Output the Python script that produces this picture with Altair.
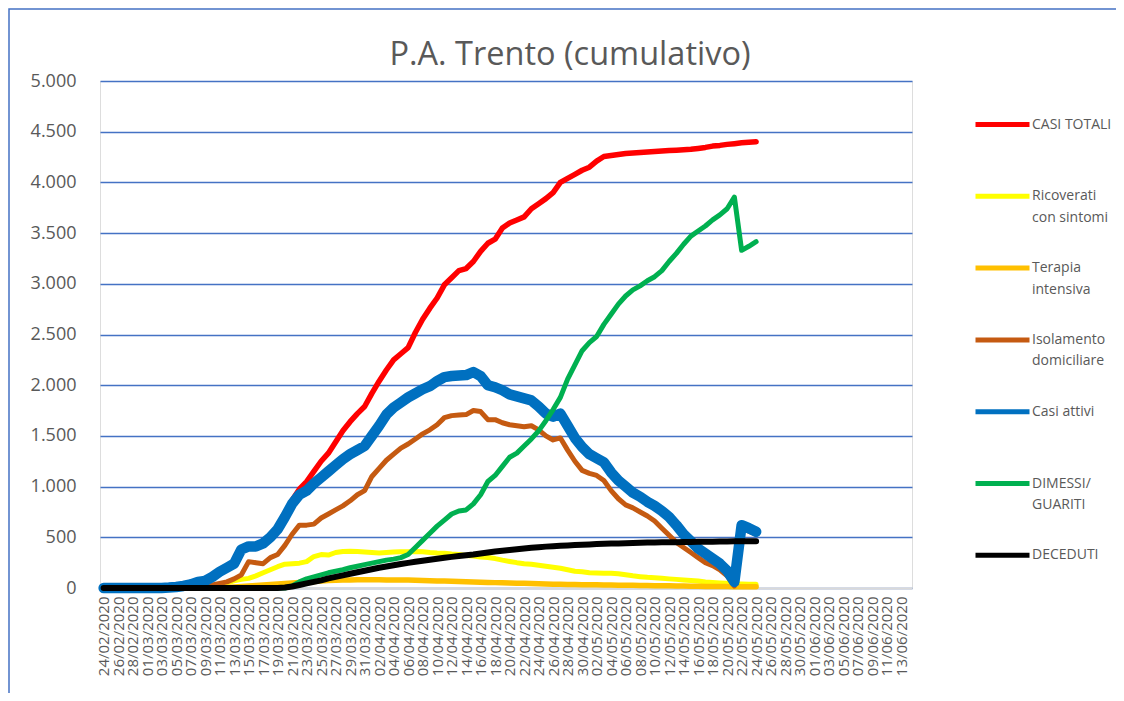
import altair as alt
import pandas as pd

# ---- categories (x axis): 24/02/2020 .. 14/06/2020 ----
date_categorie = pd.date_range("2020-02-24", "2020-06-14").strftime("%d/%m/%Y").tolist()
tick_x = date_categorie[::2]
tick_y = [0, 500, 1000, 1500, 2000, 2500, 3000, 3500, 4000, 4500, 5000]

# ---- series values (24/02/2020 .. 24/05/2020) ----
casi_totali = [0] * 9 + [
    4, 10, 20, 35, 60, 80, 115, 165, 205, 245,
    385, 420, 420, 455, 520, 605, 725, 865, 975, 1050,
    1150, 1250, 1330, 1440, 1550, 1640, 1720, 1790, 1920, 2040,
    2150, 2250, 2310, 2370, 2520, 2650, 2760, 2860, 2990, 3060,
    3130, 3150, 3220, 3320, 3400, 3440, 3550, 3600, 3630, 3660,
    3740, 3790, 3840, 3900, 4000, 4040, 4080, 4120, 4150, 4210,
    4255, 4265, 4275, 4285, 4290, 4295, 4300, 4305, 4310, 4315,
    4318, 4322, 4326, 4335, 4345, 4358, 4365, 4375, 4382, 4390,
    4395, 4401]

ricoverati = [0] * 14 + [
    10, 20, 30, 50, 70, 85, 95, 120, 150, 180,
    210, 235, 240, 245, 260, 310, 330, 325, 350, 360,
    362, 360, 355, 350, 345, 350, 355, 358, 358, 360,
    358, 350, 345, 342, 335, 330, 320, 315, 305, 300,
    290, 275, 262, 250, 240, 235, 225, 215, 205, 195,
    180, 165, 160, 150, 148, 146, 145, 140, 130, 120,
    112, 105, 100, 95, 90, 85, 80, 75, 70, 60,
    55, 50, 46, 42, 40, 38, 36]

terapia_intensiva = [0] * 16 + [
    3, 6, 10, 15, 20, 25, 30, 35, 40, 45,
    50, 55, 60, 65, 70, 73, 76, 78, 80, 81,
    82, 82, 81, 80, 80, 79, 78, 76, 74, 72,
    70, 68, 66, 64, 62, 60, 57, 55, 53, 51,
    49, 47, 46, 44, 42, 40, 38, 37, 35, 34,
    33, 32, 31, 30, 29, 28, 27, 26, 25, 24,
    23, 22, 21, 20, 19, 18, 17, 16, 15, 14,
    14, 13, 13, 12, 12]

isolamento = [0] * 9 + [
    1, 2, 4, 8, 12, 20, 30, 45, 60, 90,
    130, 260, 250, 240, 300, 330, 420, 530, 620, 620,
    630, 690, 730, 770, 810, 860, 920, 960, 1100, 1180,
    1260, 1320, 1380, 1420, 1470, 1520, 1560, 1610, 1680, 1700,
    1705, 1710, 1750, 1740, 1660, 1660, 1630, 1610, 1600, 1590,
    1600, 1560, 1500, 1460, 1480, 1360, 1250, 1160, 1130, 1110,
    1060, 960, 880, 820, 790, 750, 710, 660, 590, 520,
    450, 400, 350, 300, 250, 220, 180, 120, 20, 590,
    560, 530]

casi_attivi = [0] * 9 + [
    4, 10, 20, 35, 60, 70, 110, 160, 200, 240,
    380, 410, 410, 440, 500, 580, 700, 830, 920, 960,
    1030, 1090, 1150, 1210, 1270, 1320, 1360, 1400, 1500, 1600,
    1710, 1780, 1830, 1880, 1920, 1960, 1990, 2040, 2080, 2090,
    2095, 2100, 2130, 2090, 2000, 1980, 1950, 1910, 1890, 1870,
    1850, 1790, 1720, 1690, 1720, 1600, 1480, 1390, 1320, 1280,
    1240, 1140, 1060, 1000, 940, 900, 850, 810, 760, 700,
    620, 530, 460, 390, 340, 290, 240, 170, 60, 620,
    590, 555]

dimessi_guariti = [0] * 26 + [
    20, 60, 90, 110, 130, 150, 165, 180, 200, 215,
    230, 245, 260, 275, 285, 300, 330, 400, 470, 540,
    610, 670, 730, 760, 770, 830, 920, 1050, 1110, 1200,
    1290, 1330, 1400, 1470, 1550, 1650, 1760, 1880, 2060, 2200,
    2340, 2420, 2480, 2600, 2700, 2800, 2880, 2940, 2980, 3030,
    3070, 3130, 3220, 3300, 3390, 3470, 3520, 3570, 3630, 3680,
    3740, 3855, 3330, 3370, 3415]

deceduti = [0] * 25 + [
    5, 15, 30, 45, 60, 75, 95, 110, 125, 140,
    155, 170, 185, 200, 212, 225, 237, 248, 258, 268,
    278, 288, 298, 307, 315, 322, 330, 340, 350, 360,
    368, 375, 382, 390, 397, 403, 408, 412, 416, 420,
    424, 427, 430, 433, 436, 438, 440, 442, 444, 446,
    448, 449, 450, 451, 452, 453, 454, 455, 456, 457,
    458, 459, 460, 460, 461, 462]

# legend labels: "|" separates the two lines of each entry
serie_nomi = ["CASI TOTALI|\u200b", "Ricoverati|con sintomi", "Terapia|intensiva",
              "Isolamento|domiciliare", "Casi attivi|\u200b", "DIMESSI/|GUARITI",
              "DECEDUTI|\u200b"]
serie_valori = [casi_totali, ricoverati, terapia_intensiva, isolamento,
                casi_attivi, dimessi_guariti, deceduti]

# ---- styles ----
colori = ["#FF0000", "#FFFF00", "#FFC000", "#C55A11", "#0070C0", "#00B050", "#000000"]
spessori = [5.5, 5, 5.5, 5, 10.5, 5, 6]

rows = []
for nome, valori in zip(serie_nomi, serie_valori):
    assert len(valori) == 91, (nome, len(valori))
    for i, v in enumerate(valori):
        rows.append({"data": date_categorie[i], "valore": v, "serie": nome})
df = pd.DataFrame(rows)

FONT = "Open Sans"
GREY = "#595959"
BLU = "#4472C4"

x_enc = alt.X("data:O",
              scale=alt.Scale(type="point", domain=date_categorie, padding=0.5),
              axis=alt.Axis(values=tick_x, labelAngle=-90, labelFont=FONT, labelFontSize=15,
                            labelColor=GREY, ticks=False, domain=True, domainColor="#D9D9D9",
                            domainWidth=2, grid=False, title=None, labelPadding=8,
                            labelOverlap=False))
y_enc = alt.Y("valore:Q",
              scale=alt.Scale(domain=[0, 5000], nice=False),
              axis=alt.Axis(values=tick_y,
                            labelExpr="replace(format(datum.value, ','), ',', '.')",
                            grid=True, gridColor=BLU, gridWidth=1.5, domain=False,
                            ticks=False, labelFont=FONT, labelFontSize=18, labelColor=GREY,
                            labelPadding=24, title=None))
legenda = alt.Legend(title=None, orient="none", legendX=873, legendY=14,
                     symbolType="M-1,0L1,0", symbolSize=2916, symbolStrokeWidth=5,
                     labelExpr="split(datum.label, '|')", labelFont=FONT, labelFontSize=14,
                     labelColor=GREY, labelBaseline="middle", labelOffset=0, padding=0,
                     rowPadding=13.8, labelLimit=400)
color_enc = alt.Color("serie:N", scale=alt.Scale(domain=serie_nomi, range=colori),
                      legend=legenda)

# chart-area frame (decoration, like the spreadsheet chart border)
cornice = (
    alt.Chart(pd.DataFrame({"k": [0]}))
    .mark_rect(filled=False, stroke=BLU, strokeWidth=1.5)
    .encode(x=alt.value(-91), x2=alt.value(1300), y=alt.value(-72), y2=alt.value(900))
)

layers = [cornice]
for nome, w in zip(serie_nomi, spessori):
    layers.append(
        alt.Chart(df)
        .transform_filter(alt.datum.serie == nome)
        .mark_line(strokeWidth=w, strokeCap="round", strokeJoin="round")
        .encode(x=x_enc, y=y_enc, color=color_enc)
    )

chart = (
    alt.layer(*layers)
    .properties(
        width=812, height=507,
        padding={"left": 92, "top": 73, "right": 204, "bottom": 105},
        autosize=alt.AutoSizeParams(type="none"),
        title=alt.TitleParams("P.A. Trento (cumulativo)", font=FONT, fontSize=32.5,
                              fontWeight="normal", color=GREY, anchor="middle",
                              frame="group", dx=64, dy=63, offset=0),
    )
    .configure_view(stroke=BLU, strokeWidth=2)
    .configure(background="white", style={"guide-label": {"lineHeight": 21.5}})
)

chart.save("out.html", embed_options={"renderer": "svg", "actions": False})
